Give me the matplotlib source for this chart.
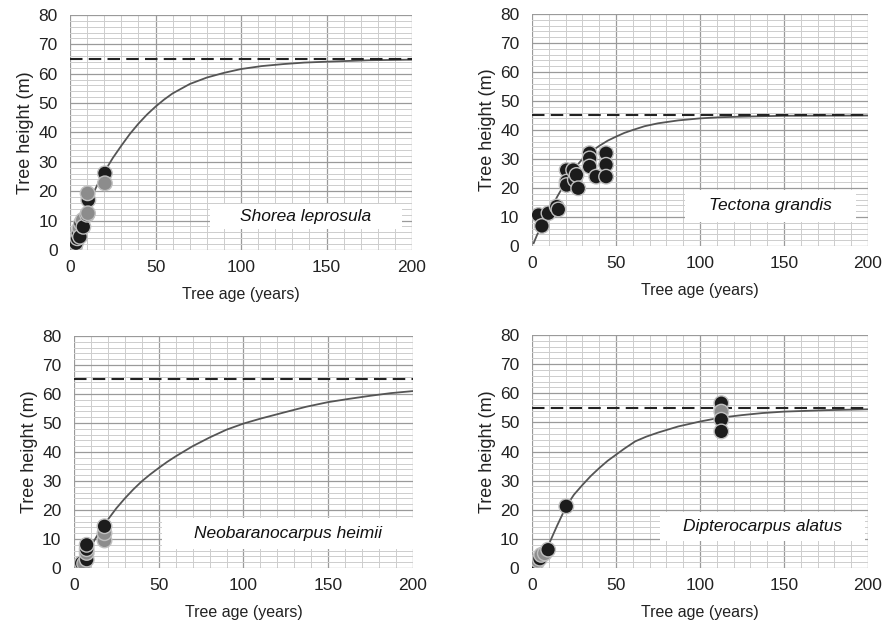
import matplotlib
matplotlib.use("Agg")
import matplotlib.pyplot as plt
from matplotlib.ticker import MultipleLocator
from matplotlib.patches import Rectangle

plt.rcParams['font.family'] = ['Liberation Sans', 'DejaVu Sans']

# ---------------- data ----------------
species = ["Shorea leprosula", "Tectona grandis", "Neobaranocarpus heimii", "Dipterocarpus alatus"]
asymptotes = [65, 45, 65, 55]

# observed points (age, height)
sl_age = [2.3, 2.9, 3.5, 4.3, 4.9, 5.5, 5.8, 6.4, 7.4, 7.8, 10.0, 10.7, 10.3, 10.5, 20.4, 20.4]
sl_h   = [0.6, 1.1, 2.3, 4.0, 5.7, 7.4, 4.5, 9.1, 10.2, 7.9, 12.0, 17.0, 19.3, 12.5, 26.1, 22.7]
sl_grey = [0, 1, 0, 0, 0, 1, 0, 0, 1, 0, 0, 0, 1, 1, 0, 1]

tg_age = [3.9, 5.9, 9.8, 14.7, 15.7, 20.6, 20.6, 20.6, 24.5, 25.5, 26.5, 27.5, 34.3, 34.3, 34.3, 38.2, 44.1, 44.1, 44.1]
tg_h   = [10.7, 6.9, 11.3, 13.6, 12.6, 26.2, 22.2, 21.0, 26.2, 22.8, 24.5, 19.9, 32.0, 30.2, 27.4, 23.9, 32.0, 28.0, 23.9]
tg_grey = [0] * len(tg_age)

nh_age = [0.5, 2.0, 3.5, 4.5, 6.0, 7.5, 7.5, 7.5, 7.5, 18.0, 18.0, 18.0]
nh_h   = [0.0, 0.3, 0.8, 1.7, 1.5, 2.9, 5.2, 6.5, 8.0, 9.5, 12.0, 14.4]
nh_grey = [1, 1, 1, 0, 1, 0, 1, 0, 0, 1, 1, 0]

da_age = [0.8, 1.5, 2.7, 3.5, 4.7, 5.5, 7.6, 9.6, 20.4, 112.7, 112.7, 112.7, 112.7]
da_h   = [0.3, 1.0, 1.7, 2.5, 3.2, 4.5, 5.0, 6.3, 21.2, 56.6, 53.7, 50.9, 46.9]
da_grey = [1, 1, 0, 1, 0, 1, 1, 0, 0, 0, 1, 0, 0]

# fitted growth curves (age, height)
sl_curve_age = [0, 2.5, 5, 7.5, 10, 12.5, 15, 17.5, 20, 25, 30, 35, 40, 45, 50, 55, 60, 70, 80, 90, 100, 112, 125, 137, 150, 175, 200]
sl_curve_h   = [0, 3.2, 7, 10.9, 14.5, 17.9, 21, 23.9, 26.5, 31.3, 35.5, 39.5, 43, 46.1, 48.8, 51.2, 53.3, 56.5, 58.7, 60.3, 61.6, 62.6, 63.3, 63.8, 64.1, 64.6, 64.8]

tg_curve_age = [1, 3, 5, 7.5, 10, 15, 20, 25, 30, 35, 40, 45, 50, 55, 60, 67, 75, 87, 100, 112, 125, 150, 200]
tg_curve_h   = [1.0, 3.8, 6.0, 9.0, 11.5, 17.0, 22.0, 26.5, 30.0, 32.5, 34.5, 36.3, 37.7, 39.0, 40.0, 41.3, 42.3, 43.3, 44.0, 44.4, 44.6, 44.9, 45.0]

nh_curve_age = [0, 5, 10, 15, 20, 25, 30, 35, 40, 45, 50, 55, 60, 70, 80, 90, 100, 110, 125, 137, 150, 162, 175, 187, 200]
nh_curve_h   = [0, 3.5, 7.5, 12.5, 16.7, 20.6, 24.0, 27.1, 29.9, 32.3, 34.5, 36.6, 38.5, 42.0, 45.0, 47.7, 49.8, 51.5, 53.8, 55.6, 57.2, 58.3, 59.4, 60.3, 61.0]

da_curve_age = [0, 2.5, 4.7, 7.5, 10.6, 15, 20.4, 25, 30, 35, 40, 45, 50, 55, 61.5, 68, 75, 87, 100, 112, 125, 137, 150, 175, 200]
da_curve_h   = [0, 1.2, 2.6, 5.5, 8.9, 14.6, 21.2, 25.2, 28.5, 31.6, 34.3, 36.8, 38.9, 41.0, 43.5, 45.1, 46.5, 48.6, 50.3, 51.6, 52.5, 53.2, 53.7, 54.2, 54.5]

points = [(sl_age, sl_h, sl_grey), (tg_age, tg_h, tg_grey), (nh_age, nh_h, nh_grey), (da_age, da_h, da_grey)]
curves = [(sl_curve_age, sl_curve_h), (tg_curve_age, tg_curve_h), (nh_curve_age, nh_curve_h), (da_curve_age, da_curve_h)]

x_ticks = [0, 50, 100, 150, 200]
y_ticks = [0, 10, 20, 30, 40, 50, 60, 70, 80]

# ---------------- layout ----------------
fig = plt.figure(figsize=(8.84, 6.35), dpi=100)
positions = [
    [0.0792, 0.6063, 0.3869, 0.3701],
    [0.6018, 0.6126, 0.3801, 0.3654],
    [0.0837, 0.1055, 0.3835, 0.3654],
    [0.6018, 0.1055, 0.3801, 0.3669],
]
# label box (axes fraction): x0, y0, w, h
boxes = [
    (0.41, 0.09, 0.56, 0.105),
    (0.455, 0.105, 0.51, 0.135),
    (0.26, 0.08, 0.74, 0.135),
    (0.38, 0.115, 0.61, 0.125),
]

for i in range(4):
    ax = fig.add_axes(positions[i])
    ax.set_xlim(0, 200)
    ax.set_ylim(0, 80)
    ax.set_xticks(x_ticks)
    ax.set_yticks(y_ticks)
    ax.xaxis.set_minor_locator(MultipleLocator(10))
    ax.yaxis.set_minor_locator(MultipleLocator(2))
    ax.grid(which='major', color='#9a9a9a', linewidth=0.9)
    ax.grid(which='minor', color='#cdcdcd', linewidth=0.7)
    ax.set_axisbelow(True)
    for s in ax.spines.values():
        s.set_visible(False)
    ax.tick_params(which='both', length=0, labelsize=12.5, colors='#222222', pad=7)
    ax.tick_params(axis='y', pad=9)

    x0, y0, w, h = boxes[i]
    ax.add_patch(Rectangle((x0, y0), w, h, transform=ax.transAxes,
                           facecolor='white', edgecolor='none', zorder=1.5))
    ax.text(x0 + w / 2, y0 + h / 2, species[i], transform=ax.transAxes,
            ha='center', va='center', fontsize=12.5, style='italic', color='#111111', zorder=1.6)

    ca, ch = curves[i]
    ax.plot(ca, ch, color='#555555', linewidth=1.3, zorder=2)
    ax.axhline(asymptotes[i], color='#222222', linewidth=1.5, dashes=(6, 3), zorder=2.2)

    pa, ph, pg = points[i]
    cols = ['#8c8c8c' if g else '#1c1c1c' for g in pg]
    ax.scatter(pa, ph, s=110, c=cols, edgecolors='#c0c0c0', linewidths=1.0, zorder=3)

    ax.set_xlabel('Tree age (years)', fontsize=11.5, color='#222222', labelpad=9)
    ax.set_ylabel('Tree height (m)', fontsize=13, color='#222222', labelpad=3)

fig.savefig('out.png', dpi=100, facecolor='white')
